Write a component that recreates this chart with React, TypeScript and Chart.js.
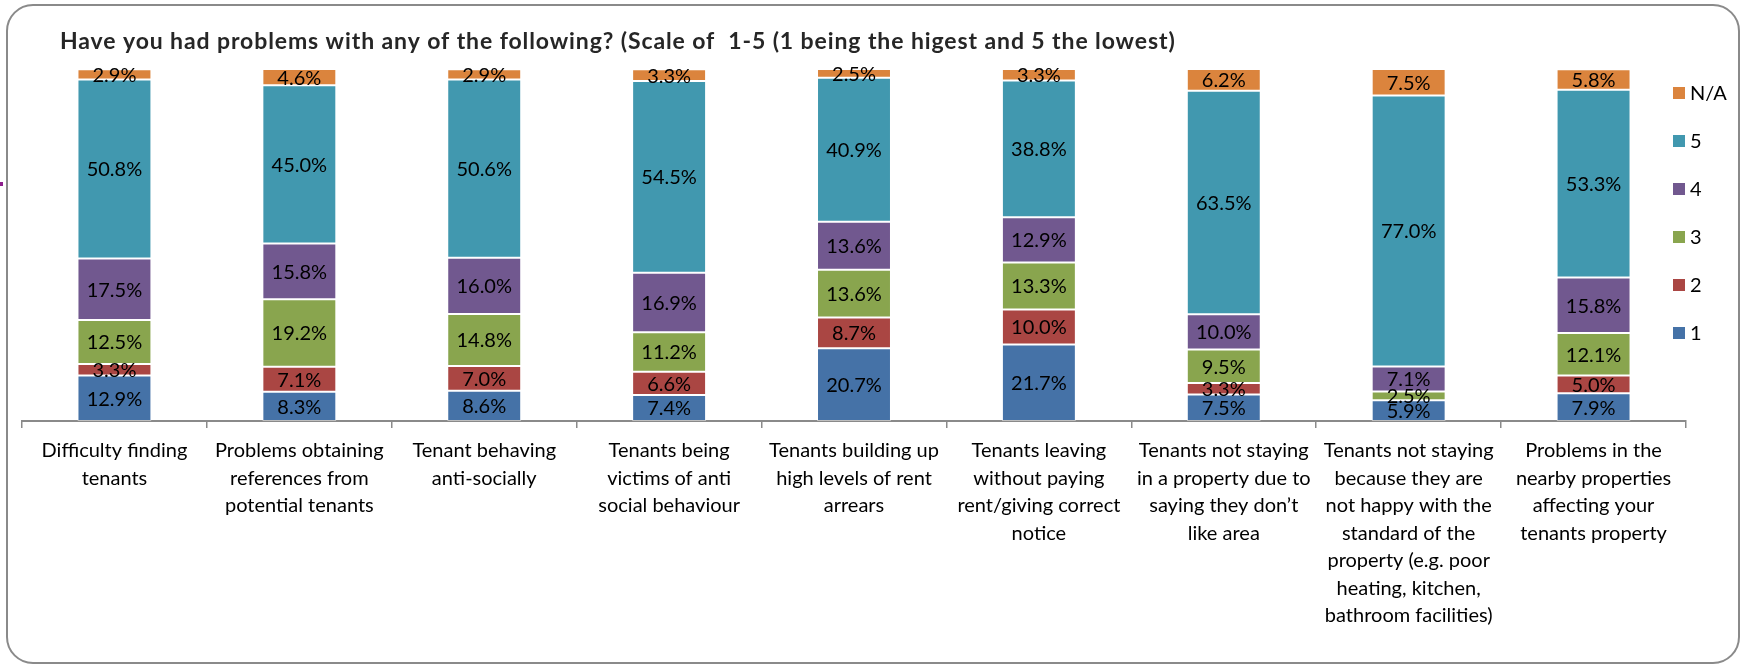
import React, { useEffect, useRef } from "react";
import { Chart, registerables } from "chart.js";

Chart.register(...registerables);

const TITLE = "Have you had problems with any of the following? (Scale of  1-5 (1 being the higest and 5 the lowest)";

const categories: string[][] = [
  ["Difficulty finding", "tenants"],
  ["Problems obtaining", "references from", "potential tenants"],
  ["Tenant behaving", "anti-socially"],
  ["Tenants being", "victims of anti", "social behaviour"],
  ["Tenants building up", "high levels of rent", "arrears"],
  ["Tenants leaving", "without paying", "rent/giving correct", "notice"],
  ["Tenants not staying", "in a property due to", "saying they don\u2019t", "like area"],
  ["Tenants not staying", "because they are", "not happy with the", "standard of the", "property (e.g. poor", "heating, kitchen,", "bathroom facilities)"],
  ["Problems in the", "nearby properties", "affecting your", "tenants property"],
];

const seriesNames = ["1", "2", "3", "4", "5", "N/A"];
const values1 = [12.9, 8.3, 8.6, 7.4, 20.7, 21.7, 7.5, 5.9, 7.9];
const values2 = [3.3, 7.1, 7.0, 6.6, 8.7, 10.0, 3.3, 0, 5.0];
const values3 = [12.5, 19.2, 14.8, 11.2, 13.6, 13.3, 9.5, 2.5, 12.1];
const values4 = [17.5, 15.8, 16.0, 16.9, 13.6, 12.9, 10.0, 7.1, 15.8];
const values5 = [50.8, 45.0, 50.6, 54.5, 40.9, 38.8, 63.5, 77.0, 53.3];
const valuesNA = [2.9, 4.6, 2.9, 3.3, 2.5, 3.3, 6.2, 7.5, 5.8];
const seriesColors = ["#4572A7", "#AA4643", "#89A54E", "#71588F", "#4198AF", "#DB843D"];

const FONT = "Lato, 'Liberation Sans', sans-serif";

const framePlugin = {
  id: "frame",
  beforeDraw(chart: any) {
    const ctx = chart.ctx;
    ctx.save();
    ctx.fillStyle = "#ffffff";
    ctx.fillRect(0, 0, chart.width, chart.height);
    // rounded chart border
    const x = 7, y = 5, w = 1732, h = 658, r = 26;
    ctx.beginPath();
    ctx.moveTo(x + r, y);
    ctx.lineTo(x + w - r, y);
    ctx.arcTo(x + w, y, x + w, y + r, r);
    ctx.lineTo(x + w, y + h - r);
    ctx.arcTo(x + w, y + h, x + w - r, y + h, r);
    ctx.lineTo(x + r, y + h);
    ctx.arcTo(x, y + h, x, y + h - r, r);
    ctx.lineTo(x, y + r);
    ctx.arcTo(x, y, x + r, y, r);
    ctx.closePath();
    ctx.strokeStyle = "#8a8a8a";
    ctx.lineWidth = 2;
    ctx.stroke();
    // small purple mark at left edge
    ctx.fillStyle = "#8e1f8e";
    ctx.fillRect(0, 182, 3, 4);
    // title
    ctx.fillStyle = "#262626";
    ctx.font = `bold 23px ${FONT}`;
    ctx.textAlign = "left";
    ctx.textBaseline = "alphabetic";
    try { (ctx as any).letterSpacing = "0.9px"; } catch (e) {}
    ctx.fillText(TITLE, 60, 49);
    try { (ctx as any).letterSpacing = "0px"; } catch (e) {}
    ctx.restore();
  },
  afterDraw(chart: any) {
    const ctx = chart.ctx;
    ctx.save();
    // legend (reverse order: N/A at top)
    const ds = chart.data.datasets;
    const order = ds.map((_: any, i: number) => i).reverse();
    ctx.font = `20px ${FONT}`;
    ctx.textBaseline = "middle";
    ctx.textAlign = "left";
    order.forEach((di: number, k: number) => {
      const cy = 93 + k * 48;
      ctx.fillStyle = ds[di].backgroundColor;
      ctx.fillRect(1673, cy - 6, 12, 12);
      ctx.fillStyle = "#000000";
      ctx.fillText(ds[di].label, 1690, cy + 1);
    });
    ctx.restore();
  },
};

const labelPlugin = {
  id: "segLabels",
  afterDatasetsDraw(chart: any) {
    const ctx = chart.ctx;
    ctx.save();
    ctx.font = `20px ${FONT}`;
    ctx.fillStyle = "#000000";
    ctx.textAlign = "center";
    ctx.textBaseline = "middle";
    chart.data.datasets.forEach((d: any, di: number) => {
      const meta = chart.getDatasetMeta(di);
      meta.data.forEach((el: any, i: number) => {
        const v = d.data[i];
        if (!v) return;
        const cy = (el.y + el.base) / 2;
        ctx.fillText(v.toFixed(1) + "%", el.x, cy + 1);
      });
    });
    ctx.restore();
  },
};

export default function App() {
  const ref = useRef<HTMLCanvasElement | null>(null);
  useEffect(() => {
    if (!ref.current) return;
    const allValues = [values1, values2, values3, values4, values5, valuesNA];
    const chart = new Chart(ref.current, {
      type: "bar",
      data: {
        labels: categories,
        datasets: seriesNames.map((name, i) => ({
          label: name,
          data: allValues[i],
          backgroundColor: seriesColors[i],
          borderColor: "rgba(255,255,255,0.45)",
          borderWidth: 1,
          borderSkipped: false,
          categoryPercentage: 1,
          barPercentage: 0.4,
        })),
      },
      options: {
        responsive: false,
        animation: false,
        devicePixelRatio: 1,
        layout: { padding: { left: 22, right: 55, top: 69, bottom: 0 } },
        plugins: {
          legend: { display: false },
          title: { display: false },
          tooltip: { enabled: false },
        },
        scales: {
          x: {
            stacked: true,
            grid: {
              display: true,
              drawOnChartArea: false,
              drawTicks: true,
              tickLength: 7,
              color: "#8a8a8a",
              lineWidth: 1.5,
            },
            border: { display: true, color: "#8a8a8a", width: 2 },
            ticks: {
              autoSkip: false,
              maxRotation: 0,
              minRotation: 0,
              padding: 9,
              color: "#000000",
              font: { family: FONT, size: 20, lineHeight: "27.5px" },
            },
            afterFit(scale: any) {
              scale.height = 246;
            },
          },
          y: {
            stacked: true,
            display: false,
            min: 0,
            max: 100,
          },
        },
      },
      plugins: [framePlugin, labelPlugin],
    });
    return () => chart.destroy();
  }, []);
  return (
    <div style={{ position: "absolute", left: 0, top: 0, width: 1741, height: 667 }}>
      <canvas ref={ref} width={1741} height={667} style={{ width: 1741, height: 667, display: "block" }} />
    </div>
  );
}
